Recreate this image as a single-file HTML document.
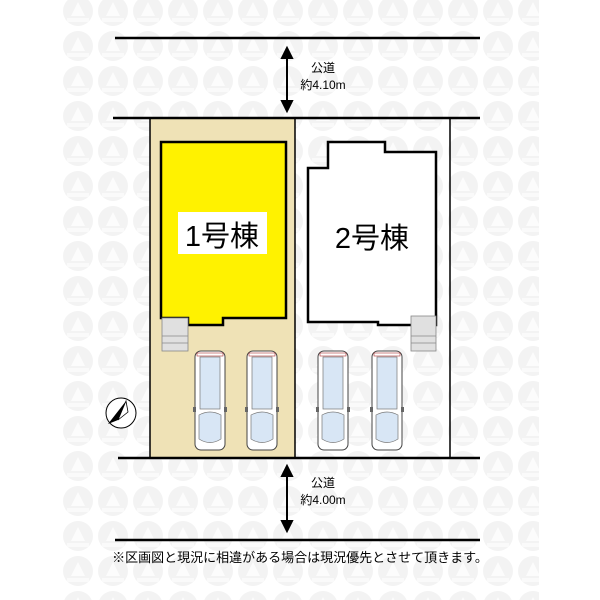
<!DOCTYPE html>
<html><head><meta charset="utf-8"><style>
html,body{margin:0;padding:0;background:#fff;}
svg{display:block;}
text{font-family:"Liberation Sans","Noto Sans CJK JP",sans-serif;}
</style></head><body>
<svg width="600" height="600" viewBox="0 0 600 600" xmlns="http://www.w3.org/2000/svg">
<defs>
<pattern id="wm" x="61" y="-6" width="35" height="35" patternUnits="userSpaceOnUse">
<circle cx="17" cy="17" r="15" fill="#f3f3f3"/>
<path d="M17 8 L24 22 L10 22 Z" fill="#fcfcfc"/>
<rect x="6" y="24" width="22" height="4" fill="#fafafa"/>
</pattern>
<g id="car">
<rect x="0" y="0" width="30" height="99" rx="6" fill="#fff" stroke="#444" stroke-width="1"/>
<rect x="5" y="6" width="20" height="52" fill="#d8e6f5" stroke="#777" stroke-width="0.7"/>
<path d="M4 64 Q15 58 26 64 L26 88 Q15 95 4 88 Z" fill="#d8e6f5" stroke="#777" stroke-width="0.7"/>
<rect x="2" y="2" width="26" height="3" fill="#fff" stroke="#a33" stroke-width="0.6"/>
<rect x="-2" y="56" width="3" height="5" fill="#666"/>
<rect x="29" y="56" width="3" height="5" fill="#666"/>
</g>
</defs>
<rect x="61" y="0" width="478" height="600" fill="url(#wm)"/>

<rect x="150" y="119" width="145" height="339" fill="#efe2b6"/>
<line x1="150" y1="118" x2="150" y2="458" stroke="#000" stroke-width="1.5"/>
<line x1="295" y1="118" x2="295" y2="458" stroke="#000" stroke-width="1.5"/>
<line x1="450" y1="118" x2="450" y2="458" stroke="#000" stroke-width="1.5"/>

<line x1="115" y1="38" x2="480" y2="38" stroke="#000" stroke-width="2.5"/>
<line x1="113" y1="118" x2="480" y2="118" stroke="#000" stroke-width="2.5"/>
<line x1="118" y1="458" x2="480" y2="458" stroke="#000" stroke-width="2.5"/>
<line x1="115" y1="540" x2="480" y2="540" stroke="#000" stroke-width="2.5"/>

<g stroke="#000" stroke-width="2" fill="#000">
<line x1="287" y1="55" x2="287" y2="104"/>
<path d="M287 48 L282 58 L292 58 Z"/>
<path d="M287 111 L282 101 L292 101 Z"/>
<line x1="287" y1="473" x2="287" y2="524"/>
<path d="M287 466 L282 476 L292 476 Z"/>
<path d="M287 531 L282 521 L292 521 Z"/>
</g>
<text x="323" y="72" font-size="12" text-anchor="middle">公道</text>
<text x="323" y="89" font-size="12" text-anchor="middle">約4.10m</text>
<text x="323" y="487" font-size="12" text-anchor="middle">公道</text>
<text x="323" y="504" font-size="12" text-anchor="middle">約4.00m</text>

<path d="M161 142 L286 142 L286 318 L223 318 L223 325 L188 325 L188 318 L161 318 Z" fill="#fff200" stroke="#000" stroke-width="2.5"/>
<rect x="162" y="318" width="26" height="33" fill="#e0e0e0" stroke="#888" stroke-width="0.8"/>
<line x1="162" y1="336" x2="188" y2="336" stroke="#888" stroke-width="0.8"/>
<line x1="162" y1="343" x2="188" y2="343" stroke="#888" stroke-width="0.8"/>
<rect x="178" y="212" width="89" height="42" fill="#fff"/>
<text x="222" y="246" font-size="29" text-anchor="middle">1号棟</text>

<path d="M308 168 L328 168 L328 142 L385 142 L385 152 L436 152 L436 325 L378 325 L378 322 L308 322 Z" fill="#fff" stroke="#000" stroke-width="2.5"/>
<rect x="411" y="316" width="25" height="35" fill="#e0e0e0" stroke="#888" stroke-width="0.8"/>
<line x1="411" y1="336" x2="436" y2="336" stroke="#888" stroke-width="0.8"/>
<line x1="411" y1="343" x2="436" y2="343" stroke="#888" stroke-width="0.8"/>
<text x="372" y="248" font-size="29" text-anchor="middle">2号棟</text>

<use href="#car" x="195" y="351"/>
<use href="#car" x="247" y="351"/>
<use href="#car" x="318" y="351"/>
<use href="#car" x="372" y="351"/>

<circle cx="121" cy="413" r="15" fill="#fff" stroke="#000" stroke-width="1"/>
<path d="M126 401 L108 424 L118 420 Z" fill="#000"/>
<path d="M126 401 L118 420 L128 412 Z" fill="#fff" stroke="#000" stroke-width="0.8"/>

<text x="300" y="562" font-size="13" text-anchor="middle">※区画図と現況に相違がある場合は現況優先とさせて頂きます。</text>
</svg>
</body></html>
